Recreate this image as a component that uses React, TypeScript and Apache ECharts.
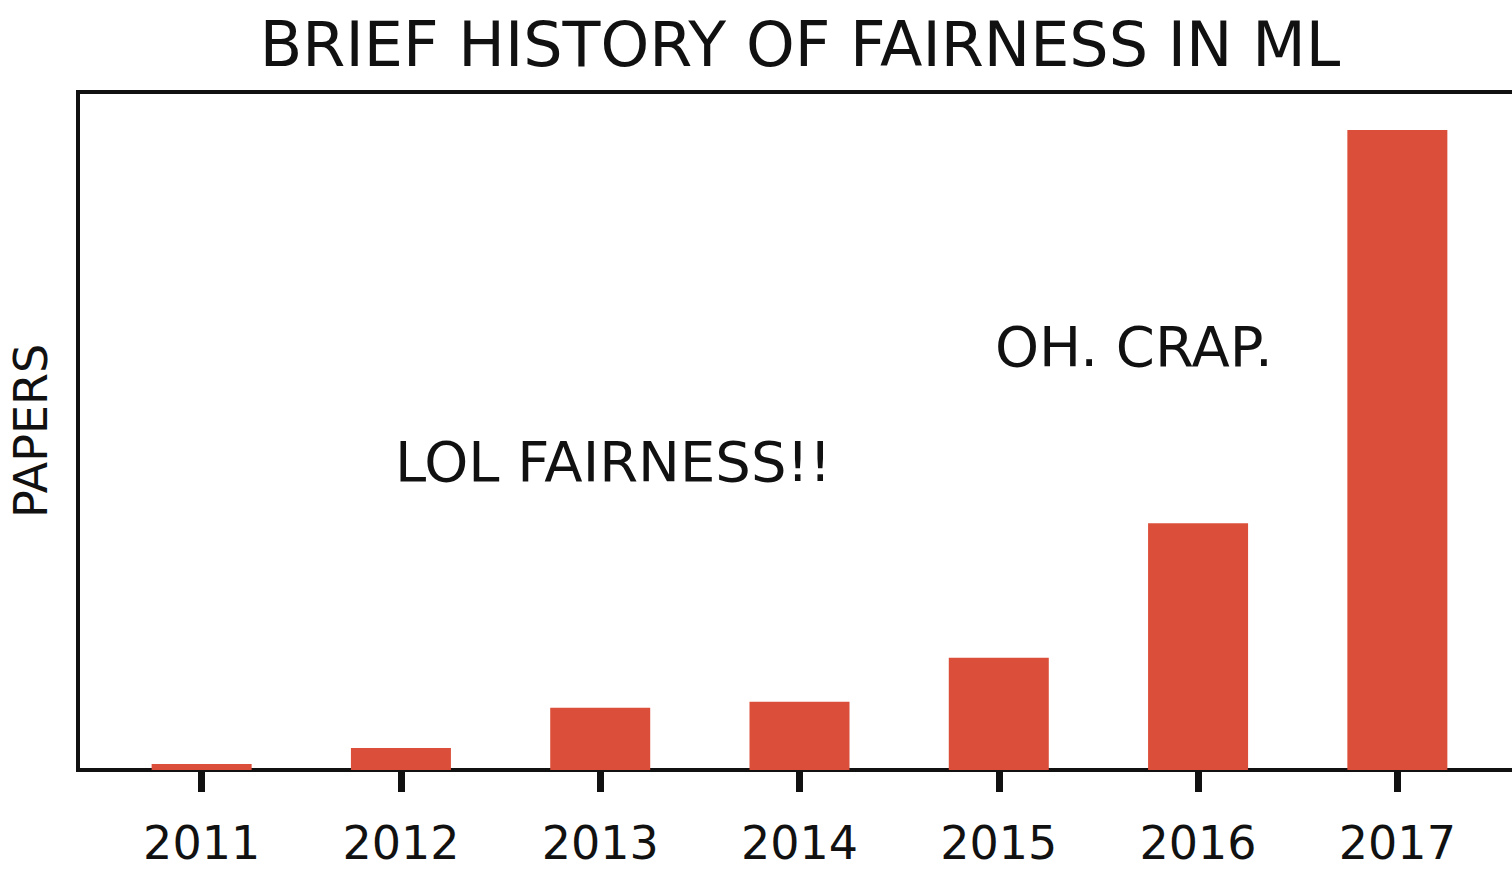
import React, { useEffect, useRef } from "react";
import * as echarts from "echarts";

const years = ["2011", "2012", "2013", "2014", "2015", "2016", "2017"];
const papers = [6, 22, 62, 68, 112, 246, 638];

export default function App() {
  const ref = useRef<HTMLDivElement>(null);
  useEffect(() => {
    const chart = echarts.init(ref.current!, null, { renderer: "svg" });
    const font = "'DejaVu Sans', sans-serif";
    chart.setOption({
      animation: false,
      backgroundColor: "#ffffff",
      title: {
        text: "BRIEF HISTORY OF FAIRNESS IN ML",
        left: 795, top: 8, textAlign: "center",
        textStyle: { fontSize: 62, fontWeight: "normal", fontFamily: font, color: "#111" },
      },
      grid: { left: 97, right: 15, top: 92, bottom: 106 },
      xAxis: {
        type: "category", data: years,
        axisLine: { show: false },
        axisTick: { show: true, alignWithLabel: true, length: 22, lineStyle: { width: 7, color: "#111" } },
        axisLabel: { fontSize: 46, fontFamily: font, color: "#111", margin: 50 },
      },
      yAxis: {
        type: "value", min: 0, max: 676,
        axisLine: { show: false }, axisTick: { show: false }, axisLabel: { show: false }, splitLine: { show: false },
        name: "PAPERS", nameLocation: "middle", nameGap: 48,
        nameTextStyle: { fontSize: 46, fontFamily: font, color: "#111" },
      },
      series: [{
        type: "bar", data: papers, barWidth: 100,
        itemStyle: { color: "#db4f3a" },
      }],
      graphic: [
        { type: "rect", shape: { x: 78, y: 92, width: 1440, height: 678 }, style: { fill: "none", stroke: "#111", lineWidth: 4 } },
        { type: "text", x: 395, y: 433, style: { text: "LOL FAIRNESS!!", fontSize: 56, fontFamily: font, fill: "#111" } },
        { type: "text", x: 995, y: 318, style: { text: "OH. CRAP.", fontSize: 56, fontFamily: font, fill: "#111" } },
      ],
    });
    return () => chart.dispose();
  }, []);
  return <div ref={ref} style={{ position: "fixed", left: 0, top: 0, width: 1512, height: 876 }} />;
}
